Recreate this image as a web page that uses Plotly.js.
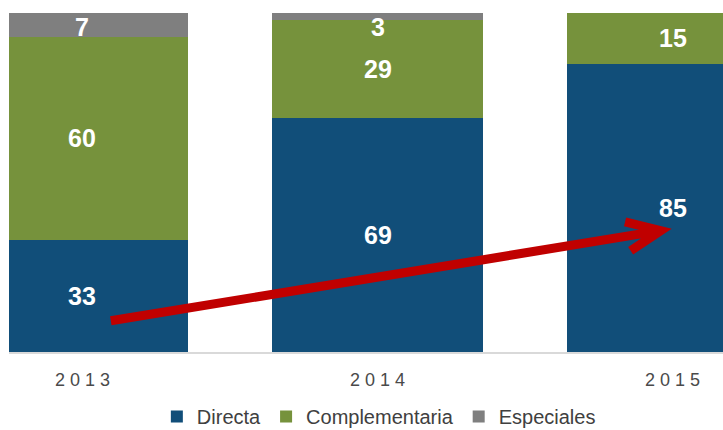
<!DOCTYPE html>
<html>
<head>
<meta charset="utf-8">
<script src="https://cdn.plot.ly/plotly-3.0.1.min.js"></script>
<style>html,body{margin:0;padding:0;background:#fff;}#chart{width:723px;height:430px;}</style>
</head>
<body>
<div id="chart"></div>
<script>
// ---- data ----
const years = ["2013", "2014", "2015"];
const directa = [33, 69, 85];
const complementaria = [60, 29, 15];
const especiales = [7, 3, 0];
const seriesNames = ["Directa", "Complementaria", "Especiales"];

// ---- styles ----
const colors = ["#114E79", "#76923C", "#7F7F7F"];
const xpos = years.map((_, i) => i);
const allSeries = [directa, complementaria, especiales];

const traces = allSeries.map((vals, k) => ({
  type: "bar",
  name: seriesNames[k],
  x: xpos,
  y: vals,
  width: 0.715,
  marker: { color: colors[k], line: { width: 0 } },
  hoverinfo: "skip"
}));

// data labels from cumulative stacks
const annotations = [];
years.forEach((yr, i) => {
  let base = 0;
  allSeries.forEach((vals, k) => {
    const v = vals[i];
    if (v > 0) {
      const top = Math.min(base + v, 100);
      let mid = (base + top) / 2;
      mid = Math.min(mid, 96.0);
      annotations.push({
        x: i, y: mid, xref: "x", yref: "y",
        text: String(v), showarrow: false,
        font: { family: "Liberation Sans, Arial, sans-serif", size: 25, color: "#FFFFFF", weight: "bold" },
        xanchor: "center", yanchor: "middle"
      });
    }
    base += v;
  });
});

// trend arrow (Directa 2013 -> 2015)
const tail = [0.096, 9.2], tip = [1.96, 35.8], w1 = [1.839, 38.4], w2 = [1.858, 29.9];
const shapes = [{
  type: "path", xref: "x", yref: "y",
  path: `M ${tail[0]} ${tail[1]} L ${tip[0]} ${tip[1]} M ${w1[0]} ${w1[1]} L ${tip[0]} ${tip[1]} L ${w2[0]} ${w2[1]}`,
  line: { color: "#C00000", width: 9 }
}];

const layout = {
  width: 723, height: 430,
  margin: { l: 9, r: 0, t: 13, b: 78, autoexpand: false },
  paper_bgcolor: "#FFFFFF", plot_bgcolor: "#FFFFFF",
  barmode: "stack",
  bargap: 0,
  showlegend: true,
  legend: {
    orientation: "h", x: 0.518, xanchor: "center", y: -0.19, yanchor: "middle",
    font: { family: "Liberation Sans, Arial, sans-serif", size: 20, color: "#404040" },
    itemgap: 20, traceorder: "normal"
  },
  xaxis: {
    range: [-0.249, 2.171], tickvals: xpos,
    ticktext: years.map(y => y.split("").join(" ")),
    showgrid: false, zeroline: false, showline: true, linecolor: "#D9D9D9", linewidth: 2,
    ticks: "", ticklabelstandoff: 10, automargin: false,
    tickfont: { family: "Liberation Sans, Arial, sans-serif", size: 18, color: "#4A4A4A" },
    fixedrange: true
  },
  yaxis: {
    range: [0, 100], showgrid: false, zeroline: false, showline: false,
    showticklabels: false, ticks: "", fixedrange: true, automargin: false
  },
  annotations: annotations,
  shapes: shapes
};

Plotly.newPlot("chart", traces, layout, { staticPlot: true, displayModeBar: false });
</script>
</body>
</html>
